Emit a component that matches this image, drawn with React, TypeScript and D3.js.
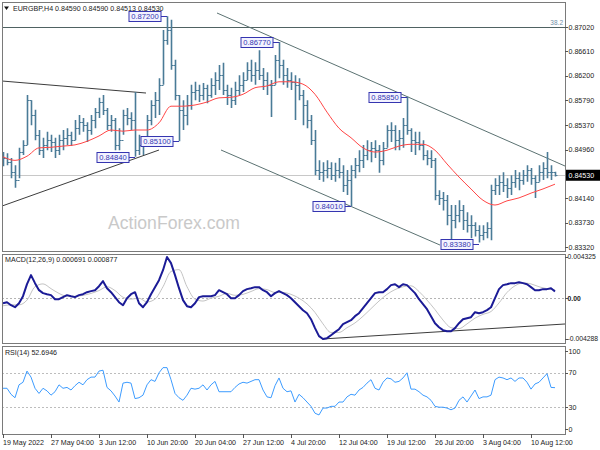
import React from "react";
import * as d3 from "d3";

// EURGBP H4 bars, one value per bar
const highs = [
  0.8492, 0.849, 0.8482, 0.847, 0.8499, 0.8512, 0.8588, 0.8579, 0.8563, 0.8529,
  0.8516, 0.8526, 0.8521, 0.8516, 0.8521, 0.8529, 0.8532, 0.8526, 0.8546, 0.8554,
  0.8549, 0.8542, 0.8554, 0.8566, 0.8583, 0.8588, 0.8566, 0.8554, 0.8549, 0.8532,
  0.8563, 0.8566, 0.8559, 0.8593, 0.8521, 0.8516, 0.8554, 0.8579, 0.8593, 0.8616,
  0.8697, 0.872, 0.8714, 0.8647, 0.8588, 0.8579, 0.8588, 0.8605, 0.861, 0.8605,
  0.8608, 0.8605, 0.8616, 0.8626, 0.8638, 0.8642, 0.8605, 0.86, 0.861, 0.8621,
  0.8626, 0.8643, 0.8647, 0.8643, 0.8663, 0.8633, 0.8626, 0.8613, 0.8655, 0.8677,
  0.8647, 0.8633, 0.8626, 0.8621, 0.8616, 0.8596, 0.8579, 0.8554, 0.8529, 0.8478,
  0.8475, 0.8478, 0.8475, 0.8474, 0.8482, 0.847, 0.8462, 0.847, 0.8482, 0.8495,
  0.8504, 0.8512, 0.8509, 0.8512, 0.8504, 0.8509, 0.8537, 0.8542, 0.8537, 0.8529,
  0.8549, 0.8585, 0.8532, 0.8526, 0.8526, 0.8512, 0.8495, 0.8495, 0.8482, 0.8428,
  0.8425, 0.842, 0.8403, 0.8403, 0.8411, 0.8403, 0.8391, 0.8386, 0.8374, 0.8369,
  0.8369, 0.8374, 0.8437, 0.8448, 0.8453, 0.8458, 0.8448, 0.8453, 0.8462, 0.8458,
  0.8462, 0.847, 0.8465, 0.8453, 0.847, 0.8475, 0.8492, 0.847, 0.8459,
];
const lows = [
  0.8468, 0.847, 0.8448, 0.8432, 0.8448, 0.8487, 0.8504, 0.8537, 0.8512, 0.8487,
  0.8482, 0.8495, 0.8492, 0.8482, 0.8487, 0.8495, 0.8504, 0.8502, 0.8512, 0.8521,
  0.8526, 0.8509, 0.8521, 0.8532, 0.8549, 0.8554, 0.8529, 0.8526, 0.8495, 0.8495,
  0.8521, 0.8537, 0.8529, 0.8484, 0.8487, 0.8487, 0.8512, 0.8537, 0.8549, 0.8554,
  0.8605, 0.8672, 0.863, 0.8579, 0.851, 0.8529, 0.8537, 0.8563, 0.8579, 0.8576,
  0.8579, 0.8574, 0.8583, 0.8588, 0.8596, 0.8588, 0.8571, 0.8566, 0.8571, 0.8588,
  0.8593, 0.8613, 0.861, 0.8605, 0.8613, 0.8596, 0.8588, 0.8551, 0.8605, 0.8616,
  0.8605, 0.86, 0.8596, 0.8546, 0.8579, 0.8537, 0.8532, 0.8504, 0.8453, 0.8445,
  0.8442, 0.8448, 0.8445, 0.8442, 0.8448, 0.8425, 0.842, 0.8401, 0.8448, 0.8458,
  0.8465, 0.8478, 0.8475, 0.8482, 0.8457, 0.847, 0.8499, 0.8509, 0.8495, 0.8495,
  0.8499, 0.8521, 0.8492, 0.8487, 0.8495, 0.8478, 0.847, 0.8465, 0.8411, 0.8403,
  0.8394, 0.8369, 0.8338, 0.8364, 0.8374, 0.8361, 0.8357, 0.8347, 0.835, 0.834,
  0.8344, 0.8347, 0.8344, 0.842, 0.842, 0.8425, 0.8415, 0.842, 0.8432, 0.8428,
  0.8437, 0.8442, 0.8437, 0.8415, 0.8442, 0.8445, 0.8448, 0.8445, 0.8451,
];
const closes = [
  0.8482, 0.8475, 0.8458, 0.8445, 0.8492, 0.8504, 0.8579, 0.8554, 0.8521, 0.8495,
  0.8504, 0.8512, 0.8509, 0.8495, 0.8512, 0.8516, 0.8521, 0.8512, 0.8532, 0.8542,
  0.8537, 0.8529, 0.8546, 0.8559, 0.8576, 0.8563, 0.8537, 0.8546, 0.8504, 0.8512,
  0.8554, 0.8549, 0.8546, 0.8495, 0.8504, 0.8512, 0.8546, 0.8571, 0.8579, 0.8605,
  0.868, 0.8697, 0.8638, 0.8588, 0.8563, 0.8554, 0.8571, 0.8593, 0.8596, 0.8588,
  0.86, 0.8588, 0.8605, 0.8613, 0.8621, 0.8596, 0.8588, 0.8579, 0.8596, 0.8605,
  0.8613, 0.863, 0.8621, 0.863, 0.8621, 0.8613, 0.8605, 0.8605, 0.8647, 0.8638,
  0.8621, 0.8613, 0.861, 0.8605, 0.8588, 0.8571, 0.8546, 0.8512, 0.8462, 0.8458,
  0.8462, 0.8465, 0.8453, 0.8462, 0.8458, 0.8437, 0.8445, 0.8462, 0.847, 0.8478,
  0.8487, 0.8495, 0.8499, 0.8495, 0.8478, 0.8499, 0.8529, 0.8529, 0.8512, 0.8516,
  0.8537, 0.8529, 0.8512, 0.8509, 0.8504, 0.8487, 0.8482, 0.8478, 0.842, 0.8415,
  0.8411, 0.8386, 0.8378, 0.8386, 0.8394, 0.8378, 0.8369, 0.8369, 0.8361, 0.8352,
  0.8357, 0.8364, 0.8428, 0.8437, 0.8442, 0.8437, 0.8432, 0.8442, 0.8448, 0.8445,
  0.8453, 0.8462, 0.8448, 0.8442, 0.8458, 0.8465, 0.8458, 0.8458, 0.8453,
];
const firstOpen = 0.8485;
const lastPrice = 0.8453;

// moving average, read every 3 bars
const maStep = 3;
const maValues = [
  0.8484, 0.8478, 0.8485, 0.8499, 0.85, 0.8502, 0.8504, 0.851, 0.8519, 0.8529,
  0.8527, 0.8529, 0.8529, 0.8541, 0.8569, 0.8569, 0.8571, 0.8576, 0.8583, 0.8584,
  0.8589, 0.86, 0.8603, 0.861, 0.861, 0.8606, 0.8589, 0.8559, 0.8532, 0.8516,
  0.8499, 0.8492, 0.8495, 0.8502, 0.8505, 0.8505, 0.8495, 0.8472, 0.845, 0.843,
  0.8411, 0.8403, 0.841, 0.8415, 0.8423, 0.843, 0.8438,
];

// MACD(12,26,9) main line, one per bar
const macdValues = [
  -0.00053, -0.00042, -0.00074, -0.00095, -0.00053, 0.00021, 0.00147, 0.00242, 0.00158, 0.00084,
  0.00053, 0.00042, 0.00032, -0.00011, -0.00011, 0.00011, 0.00032, 0.00021, 0.00011, 0.00032,
  0.00042, 0.00063, 0.00074, 0.00084, 0.00126, 0.00179, 0.00105, 0.00063, 0.00011, -0.00042,
  -0.00074, 0.0, 0.00042, 0.00063, -0.00053, -0.00095, -0.00042, 0.00042, 0.00116, 0.00189,
  0.00294, 0.004325, 0.00368, 0.00242, 0.00105, -0.00021, -0.00084, -0.00095, -0.00053, 0.00011,
  0.00021, 0.00021, 0.00021, 0.00032, 0.00084, 0.00063, 0.00042, 0.0, 0.0, 0.00032,
  0.00074, 0.00095, 0.00105, 0.00116, 0.00116, 0.00084, 0.00063, 0.00021, 0.00053, 0.00074,
  0.00053, 0.00032, 0.0, -0.00042, -0.00084, -0.00126, -0.00158, -0.00221, -0.00315, -0.00399,
  -0.004288, -0.0042, -0.00389, -0.00357, -0.00326, -0.00273, -0.00252, -0.00231, -0.00189, -0.00158,
  -0.00105, -0.00053, 0.0, 0.00053, 0.00063, 0.00063, 0.00095, 0.00137, 0.00147, 0.00116,
  0.00147, 0.00137, 0.00095, 0.00053, -0.00011, -0.00063, -0.00116, -0.00189, -0.00263, -0.00305,
  -0.00336, -0.00347, -0.00347, -0.00315, -0.00263, -0.00221, -0.0021, -0.002, -0.00147, -0.00158,
  -0.00147, -0.00126, -0.00095, 0.0, 0.00095, 0.00137, 0.00147, 0.00158, 0.00158, 0.00168,
  0.00158, 0.00147, 0.00116, 0.00084, 0.00084, 0.00095, 0.00095, 0.00105, 0.000691,
];

// MACD signal, read every 2 bars
const signalStep = 2;
const signalValues = [
  -0.0008, -0.0007, -0.0007, -0.0002, 0.0012, 0.0015, 0.001, 0.0005, 0.0002, 0.0002,
  0.0003, 0.0005, 0.0008, 0.0012, 0.0008, 0.0001, -0.0001, 0.0, -0.0004, -0.0001,
  0.0012, 0.0028, 0.003, 0.0012, -0.0001, -0.0003, 0.0, 0.0002, 0.0005, 0.0003,
  0.0004, 0.0007, 0.001, 0.0009, 0.0006, 0.0006, 0.0004, 0.0, -0.0006, -0.0015,
  -0.0027, -0.0036, -0.0036, -0.0031, -0.0026, -0.0019, -0.0011, -0.0003, 0.0004, 0.0009,
  0.0012, 0.0013, 0.0007, -0.0002, -0.0012, -0.0023, -0.0031, -0.0032, -0.0027, -0.0021,
  -0.0017, -0.0014, -0.0005, 0.0006, 0.0013, 0.0016, 0.0015, 0.0012, 0.001, 0.000877,
];

// RSI(14), one per bar
const rsiValues = [
  52, 52, 45, 41, 56, 59, 72, 65, 52, 46,
  52, 49, 44, 48, 56, 52, 53, 50, 55, 59,
  56, 62, 65, 65, 72, 73, 53, 49, 43, 36,
  58, 59, 58, 40, 41, 44, 56, 62, 60, 70,
  76, 76, 62, 46, 41, 38, 44, 52, 51, 52,
  56, 50, 56, 60, 48, 48, 48, 48, 53, 57,
  59, 58, 60, 62, 62, 50, 42, 41, 55, 64,
  52, 48, 49, 36, 45, 41, 36, 31, 23, 21,
  29, 29, 31, 31, 36, 36, 42, 45, 44, 50,
  53, 58, 62, 52, 50, 59, 64, 63, 59, 60,
  64, 70, 51, 51, 48, 44, 42, 38, 31, 30,
  30, 29, 27, 29, 38, 42, 36, 43, 50, 40,
  42, 42, 44, 62, 65, 64, 62, 64, 60, 64,
  64, 59, 51, 57, 59, 64, 69, 53, 52.6946,
];

const priceTicks = [0.8702, 0.8661, 0.862, 0.8579, 0.8537, 0.8496, 0.8414, 0.8373, 0.8332];
const priceTickLabels = ["0.87020", "0.86610", "0.86200", "0.85790", "0.85370", "0.84960", "0.84140", "0.83730", "0.83320"];
const macdTicks = [0.004325, 0, -0.004288];
const macdTickLabels = ["0.004325", "0.00", "-0.004288"];
const rsiTicks = [100, 70, 30, 0];
const rsiLevels = [70, 30];

const dateIdx = [0, 12, 24, 36, 48, 60, 72, 84, 96, 108, 120, 132];
const dateLabels = [
  "19 May 2022", "27 May 04:00", "3 Jun 12:00", "10 Jun 20:00", "20 Jun 04:00", "27 Jun 12:00",
  "4 Jul 20:00", "12 Jul 04:00", "19 Jul 12:00", "26 Jul 20:00", "3 Aug 04:00", "10 Aug 12:00",
];

// swing high / low labels: anchor bar and price
const markIdx = [41, 69, 101, 44, 33, 87, 119];
const markPrices = [0.872, 0.8677, 0.8585, 0.851, 0.8484, 0.8401, 0.8338];
const markTexts = ["0.87200", "0.86770", "0.85850", "0.85100", "0.84840", "0.84010", "0.83380"];

// drawn trendlines: [bar index, price]
const trendStarts = [[-0.25, 0.86113], [-0.25, 0.84013], [53.5, 0.87255], [54.5, 0.84954]];
const trendEnds = [[35.75, 0.85911], [39, 0.84954], [140.5, 0.84685], [109.25, 0.83358]];
const trendColors = ["#3c3c3c", "#3c3c3c", "#5b7272", "#5b7272"];
const fibLevel = 0.8702;
const macdTrend = [[79.75, -0.00429], [140.5, -0.002712]];

const FONT = "'Liberation Sans', Arial, sans-serif";

export default function App() {
  const left = 2, right = 565;
  const mainTop = 2, mainBottom = 251;
  const macdTop = 254, macdBottom = 343;
  const rsiTop = 346, rsiBottom = 434;

  const x = d3.scaleLinear().domain([0, 138]).range([3, 555]);
  const yP = d3.scaleLinear().domain([0.8332, 0.8702]).range([247.3, 27]);
  const yM = d3.scaleLinear().domain([-0.004288, 0.004325]).range([339, 257]);
  const yR = d3.scaleLinear().domain([0, 100]).range([433, 347]);

  // OHLC bars in one path
  let bars = "";
  let ticks = "";
  closes.forEach((c, i) => {
    const o = i === 0 ? firstOpen : closes[i - 1];
    const bx = Math.round(x(i)) + 0.5;
    bars += `M${bx},${yP(highs[i])}V${yP(lows[i])}`;
    ticks += `M${bx - 2},${Math.round(yP(o)) + 0.5}H${bx}`;
    ticks += `M${bx},${Math.round(yP(c)) + 0.5}H${bx + 2}`;
  });

  const maLine = d3.line<number>()
    .x((_, i) => x(i * maStep))
    .y(d => yP(d))
    .curve(d3.curveMonotoneX);
  const macdLine = d3.line<number>()
    .x((_, i) => x(i))
    .y(d => yM(d));
  const signalLine = d3.line<number>()
    .x((_, i) => x(i * signalStep))
    .y(d => yM(d))
    .curve(d3.curveMonotoneX);
  const rsiLine = d3.line<number>()
    .x((_, i) => x(i))
    .y(d => yR(d));

  const axisText = { fontFamily: FONT, fontSize: 7.1, fill: "#222" };

  return (
    <div>
      <style>{`body{margin:0}`}</style>
      <svg width={600} height={450} style={{ display: "block", background: "#fff" }}>
        <defs>
          <clipPath id="mainClip">
            <rect x={left} y={mainTop} width={right - left} height={mainBottom - mainTop} />
          </clipPath>
          <clipPath id="macdClip">
            <rect x={left} y={macdTop} width={right - left} height={macdBottom - macdTop} />
          </clipPath>
        </defs>

        {/* main panel */}
        <g clipPath="url(#mainClip)">
          <line x1={left} x2={right} y1={Math.round(yP(lastPrice)) + 0.5} y2={Math.round(yP(lastPrice)) + 0.5} stroke="#c8c8c8" />
          <line x1={left} x2={right} y1={Math.round(yP(fibLevel)) + 0.5} y2={Math.round(yP(fibLevel)) + 0.5} stroke="#4f6262" />
          <text x={108} y={229} fontFamily={FONT} fontSize={17.6} fill="#c9c9c9">ActionForex.com</text>
          {trendStarts.map((s, k) => (
            <line key={k} x1={x(s[0])} y1={yP(s[1])} x2={x(trendEnds[k][0])} y2={yP(trendEnds[k][1])} stroke={trendColors[k]} strokeWidth={1} />
          ))}
          <path d={bars} stroke="#4a7b97" strokeWidth={1.6} fill="none" />
          <path d={ticks} stroke="#4a7b97" strokeWidth={1} fill="none" />
          <path d={maLine(maValues) || ""} stroke="#ff4646" strokeWidth={1} fill="none" />
          {markIdx.map((mi, k) => {
            const ax = x(mi);
            const cy = Math.round(yP(markPrices[k])) + 0.5;
            const bw = 32, bh = 10;
            const bxr = ax - 6;
            return (
              <g key={k}>
                <line x1={bxr} x2={ax} y1={cy} y2={cy} stroke="#3535b0" />
                <rect x={bxr - bw} y={cy - bh / 2} width={bw} height={bh} fill="#f2f2ff" stroke="#3535b0" />
                <text x={bxr - bw / 2} y={cy} dy="0.36em" textAnchor="middle" fontFamily={FONT} fontSize={7.6} fill="#3535b0">{markTexts[k]}</text>
              </g>
            );
          })}
          <text x={563} y={25} textAnchor="end" fontFamily={FONT} fontSize={6.5} fill="#6f8ea6">38.2</text>
        </g>
        <path d={`M4,6.5H9L6.5,10Z`} fill="#111" />
        <text x={13} y={11} {...axisText}>EURGBP,H4  0.84590 0.84590 0.84513 0.84530</text>

        {/* MACD panel */}
        <g clipPath="url(#macdClip)">
          <line x1={left} x2={right} y1={Math.round(yM(0)) + 0.5} y2={Math.round(yM(0)) + 0.5} stroke="#b4b4b4" strokeDasharray="2,2" />
          <line x1={x(macdTrend[0][0])} y1={yM(macdTrend[0][1])} x2={x(macdTrend[1][0])} y2={yM(macdTrend[1][1])} stroke="#3c3c3c" />
          <path d={signalLine(signalValues) || ""} stroke="#c4c4c4" strokeWidth={1} fill="none" />
          <path d={macdLine(macdValues) || ""} stroke="#1b1b96" strokeWidth={2} fill="none" strokeLinejoin="round" />
        </g>
        <text x={5} y={262} {...axisText}>MACD(12,26,9) 0.000691 0.000877</text>

        {/* RSI panel */}
        {rsiLevels.map(v => (
          <line key={v} x1={left} x2={right} y1={Math.round(yR(v)) + 0.5} y2={Math.round(yR(v)) + 0.5} stroke="#bdbdbd" strokeDasharray="2,2" />
        ))}
        <path d={rsiLine(rsiValues) || ""} stroke="#3d9cff" strokeWidth={1} fill="none" />
        <text x={5} y={355} {...axisText}>RSI(14) 52.6946</text>

        {/* frames */}
        {[[mainTop, mainBottom], [macdTop, macdBottom], [rsiTop, rsiBottom]].map(([t, b], k) => (
          <rect key={k} x={left + 0.5} y={t + 0.5} width={right - left} height={b - t} fill="none" stroke="#7a7a7a" />
        ))}

        {/* price axis */}
        {priceTicks.map((p, k) => (
          <g key={k}>
            <line x1={right} x2={right + 3} y1={Math.round(yP(p)) + 0.5} y2={Math.round(yP(p)) + 0.5} stroke="#555" />
            <text x={568.5} y={yP(p)} dy="0.36em" {...axisText}>{priceTickLabels[k]}</text>
          </g>
        ))}
        <rect x={566} y={yP(lastPrice) - 5.5} width={34} height={11} fill="#000" />
        <text x={568.5} y={yP(lastPrice)} dy="0.36em" {...axisText} fill="#fff">0.84530</text>

        {/* MACD axis */}
        {macdTicks.map((v, k) => (
          <g key={k}>
            <line x1={right} x2={right + 3} y1={Math.round(yM(v)) + 0.5} y2={Math.round(yM(v)) + 0.5} stroke="#555" />
            <text x={567.5} y={yM(v)} dy="0.36em" {...axisText} fontSize={6.8} fontWeight={v === 0 ? 700 : 400}>{macdTickLabels[k]}</text>
          </g>
        ))}

        {/* RSI axis */}
        {rsiTicks.map(v => {
          const ty = Math.min(Math.max(yR(v), rsiTop + 5), rsiBottom - 5);
          return (
            <g key={v}>
              <line x1={right} x2={right + 3} y1={Math.round(ty) + 0.5} y2={Math.round(ty) + 0.5} stroke="#555" />
              <text x={568.5} y={ty} dy="0.36em" {...axisText}>{v}</text>
            </g>
          );
        })}

        {/* time axis */}
        {dateIdx.map((di, k) => (
          <g key={k}>
            <line x1={Math.round(x(di)) + 0.5} x2={Math.round(x(di)) + 0.5} y1={rsiBottom} y2={rsiBottom + 4} stroke="#555" />
            <text x={x(di)} y={445} {...axisText}>{dateLabels[k]}</text>
          </g>
        ))}
      </svg>
    </div>
  );
}
